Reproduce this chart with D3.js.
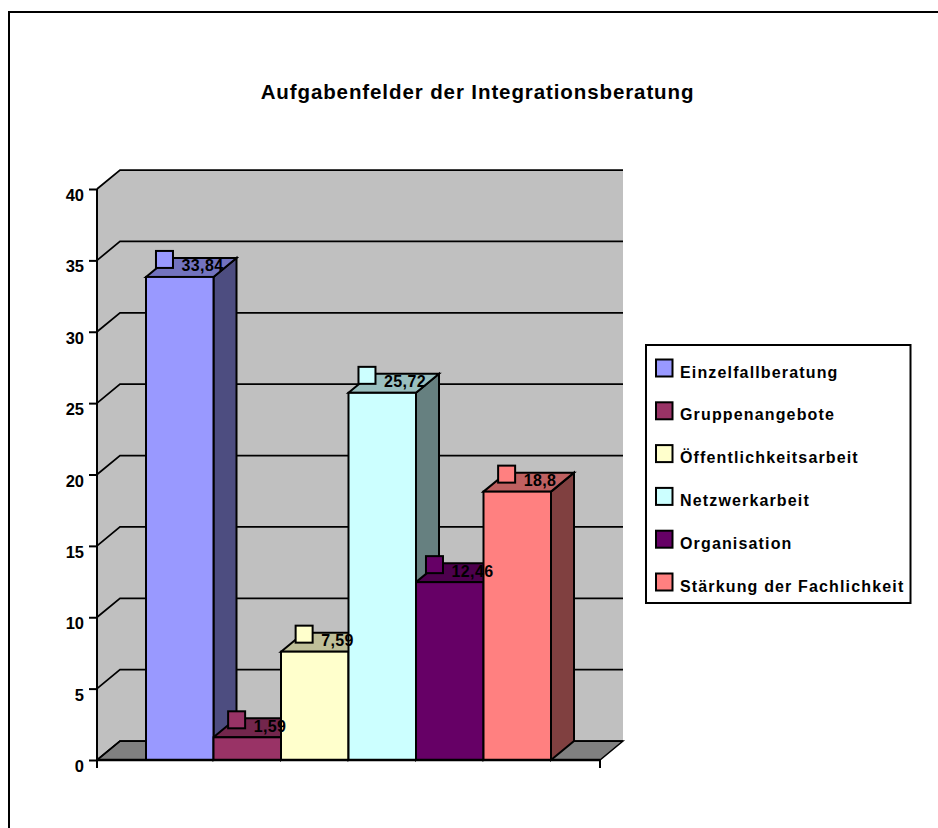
<!DOCTYPE html>
<html><head><meta charset="utf-8">
<script src="https://cdn.jsdelivr.net/npm/d3@7/dist/d3.min.js"></script>
<style>html,body{margin:0;padding:0;background:#fff}svg{display:block}text{font-family:"Liberation Sans",Arial,sans-serif;font-weight:700;fill:#000}</style>
</head><body><svg id="c" width="938" height="828"></svg>
<script>
const categories=["Einzelfallberatung","Gruppenangebote","Öffentlichkeitsarbeit","Netzwerkarbeit","Organisation","Stärkung der Fachlichkeit"];
const values=[33.84,1.59,7.59,25.72,12.46,18.8];
const valueLabels=["33,84","1,59","7,59","25,72","12,46","18,8"];
const colors=["#9999ff","#993366","#ffffcc","#ccffff","#660066","#ff8080"];
const topColors=["#7373bf","#73264c","#bfbf99","#99bfbf","#4d004d","#bf6060"];
const sideColors=["#4d4d80","#4d1a33","#808066","#668080","#330033","#804040"];
const yTicks=[0,5,10,15,20,25,30,35,40];
const title="Aufgabenfelder der Integrationsberatung";

const svg=d3.select("#c");
const dx=23,dy=-19,left=97,right=600,y0=760,y40=189;
const y=d3.scaleLinear().domain([0,40]).range([y0,y40]);
const x=d3.scaleBand().domain(categories).range([146,551]).padding(0);
const black="#000";
const path=p=>d3.line()(p);

svg.append("rect").attr("x",9).attr("y",12).attr("width",960).attr("height",900).attr("fill","#fff").attr("stroke",black).attr("stroke-width",2);

svg.append("text").attr("x",477.5).attr("y",99).attr("text-anchor","middle").attr("font-size",20.5).style("letter-spacing","0.9px").text(title);

// walls
svg.append("path").attr("d",path([[left,y0],[left+dx,y0+dy],[right+dx,y0+dy],[right+dx,y(40)+dy],[left+dx,y(40)+dy],[left,y(40)]])).attr("fill","#c0c0c0");
// floor
svg.append("path").attr("d",path([[left,y0],[left+dx,y0+dy],[right+dx,y0+dy],[right,y0]])+"Z").attr("fill","#808080").attr("stroke",black).attr("stroke-width",1.5);
// left wall edge
svg.append("line").attr("x1",left).attr("x2",left).attr("y1",y(40)).attr("y2",y0).attr("stroke",black).attr("stroke-width",2);
// gridlines
const g=svg.append("g").attr("fill","none").attr("stroke",black).attr("stroke-width",1.75);
yTicks.forEach(t=>{
  g.append("path").attr("d",path([[left,y(t)],[left+dx,y(t)+dy],[right+dx,y(t)+dy]]));
});
// value axis
const axis=d3.axisLeft(y).tickValues(yTicks).tickSize(8);
const ag=svg.append("g").attr("transform",`translate(${left},0)`).call(axis);
ag.select(".domain").remove();
ag.selectAll("line").attr("stroke",black).attr("stroke-width",2);
ag.selectAll("text").attr("font-size",16.5).attr("font-family",'"Liberation Sans",Arial,sans-serif').attr("fill",black).attr("dy",11.5).attr("x",-13);

// bars, back to front
const bw=x.bandwidth();
const order=[0,1,2,3,4,5];
order.forEach(i=>{
  const b=x(categories[i]),t=y(values[i]),grp=svg.append("g").attr("stroke",black).attr("stroke-width",2).attr("stroke-linejoin","miter");
  grp.append("path").attr("d",path([[b+bw,y0],[b+bw+dx,y0+dy],[b+bw+dx,t+dy],[b+bw,t]])+"Z").attr("fill",sideColors[i]);
  grp.append("path").attr("d",path([[b,t],[b+dx,t+dy],[b+bw+dx,t+dy],[b+bw,t]])+"Z").attr("fill",topColors[i]);
});
order.forEach(i=>{
  const b=x(categories[i]),t=y(values[i]);
  svg.append("rect").attr("x",b).attr("y",t).attr("width",bw).attr("height",y0-t).attr("fill",colors[i]).attr("stroke",black).attr("stroke-width",2);
});
// floor axis
svg.append("line").attr("x1",left).attr("x2",right).attr("y1",y0).attr("y2",y0).attr("stroke",black).attr("stroke-width",2.5);
svg.append("line").attr("x1",left).attr("x2",left).attr("y1",y0).attr("y2",y0+8).attr("stroke",black).attr("stroke-width",2);
svg.append("line").attr("x1",right).attr("x2",right).attr("y1",y0).attr("y2",y0+8).attr("stroke",black).attr("stroke-width",2);

// data labels with legend keys
order.forEach(i=>{
  const b=x(categories[i]),t=y(values[i]);
  const key=svg.append("rect").attr("y",t+dy-7).attr("width",17).attr("height",17).attr("fill",colors[i]).attr("stroke",black).attr("stroke-width",2);
  const lab=svg.append("text").attr("x",b+56.5).attr("y",t+dy+13.5).attr("text-anchor","middle").attr("font-size",16).style("letter-spacing","0.4px").text(valueLabels[i]);
  key.attr("x",b+56.5-lab.node().getComputedTextLength()/2-25.5);
});

// legend
svg.append("rect").attr("x",646).attr("y",345).attr("width",264.5).attr("height",258).attr("fill","#fff").attr("stroke",black).attr("stroke-width",2);
const legY=d3.scalePoint().domain(categories).range([368,582]);
categories.forEach((c,i)=>{
  svg.append("rect").attr("x",656).attr("y",legY(c)-8.5).attr("width",16.5).attr("height",17).attr("fill",colors[i]).attr("stroke",black).attr("stroke-width",2);
  svg.append("text").attr("x",680).attr("y",legY(c)+9.5).attr("font-size",16).style("letter-spacing","1.15px").text(c);
});
</script></body></html>
